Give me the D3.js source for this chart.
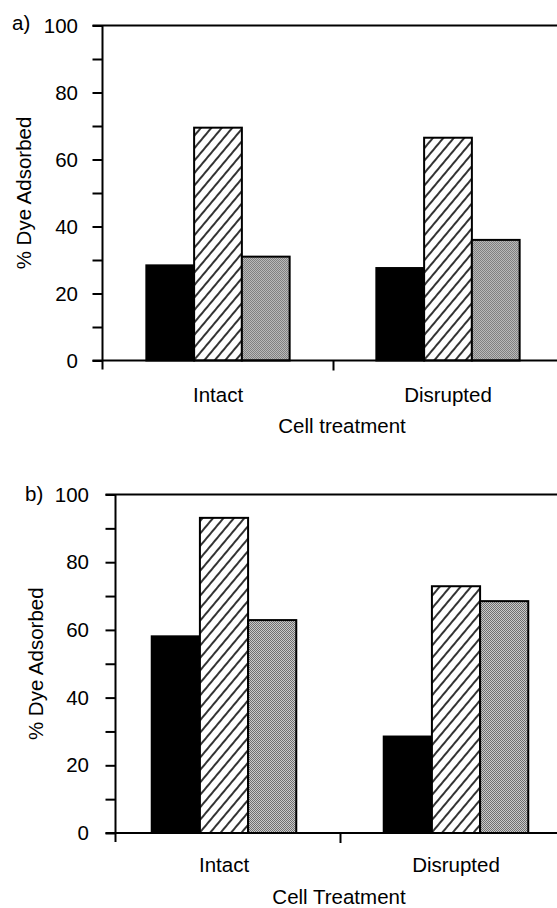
<!DOCTYPE html>
<html>
<head>
<meta charset="utf-8">
<script src="https://cdn.jsdelivr.net/npm/d3@7"></script>
<style>
  body { margin: 0; background: #fff; }
  svg { display: block; font-family: "Liberation Sans", Arial, sans-serif; }
  text { fill: #000; }
</style>
</head>
<body>
<script>
// data
const categories = ["Intact", "Disrupted"];
const seriesKeys = ["solid", "hatched", "stippled"];

// panel a
const solidA = [28.4, 27.6];
const hatchedA = [69.5, 66.5];
const stippledA = [31.0, 36.0];

// panel b
const solidB = [58.1, 28.5];
const hatchedB = [93.1, 72.9];
const stippledB = [62.9, 68.5];

const yTickValues = [0, 20, 40, 60, 80, 100];
const yMinorTicks = [10, 30, 50, 70, 90];
const yTitle = "% Dye Adsorbed";

const width = 557;
const height = 908;

const svg = d3.select('body').append('svg')
      .attr('width', width)
      .attr('height', height);

// fills
const defs = svg.append('defs');

const hatch = defs.append('pattern')
      .attr('id', 'hatch')
      .attr('patternUnits', 'userSpaceOnUse')
      .attr('width', 8)
      .attr('height', 8)
      .attr('patternTransform', 'rotate(40)');
hatch.append('rect').attr('width', 8).attr('height', 8).attr('fill', '#fff');
hatch.append('line')
  .attr('x1', 4).attr('y1', 0).attr('x2', 4).attr('y2', 8)
  .attr('stroke', '#000').attr('stroke-width', 1.6);

const dots = defs.append('pattern')
      .attr('id', 'dots')
      .attr('patternUnits', 'userSpaceOnUse')
      .attr('width', 2)
      .attr('height', 2);
dots.append('rect').attr('width', 2).attr('height', 2).attr('fill', '#fff');
dots.append('rect').attr('width', 1).attr('height', 1).attr('fill', '#3a3a3a');
dots.append('rect').attr('x', 1).attr('y', 1).attr('width', 1).attr('height', 1).attr('fill', '#3a3a3a');

const fills = { solid: '#000', hatched: 'url(#hatch)', stippled: 'url(#dots)' };

const panels = [
  { letter: 'a)', series: [solidA, hatchedA, stippledA], xTitle: 'Cell treatment',
    axisX: 102.5, top: 25.5, bottom: 360.5, band: [103, 563],
    labelPad: 14.5, catPad: 27, letterX: 12, letterY: 30,
    yTitleX: 31, xTitleX: 342, xTitleY: 433 },
  { letter: 'b)', series: [solidB, hatchedB, stippledB], xTitle: 'Cell Treatment',
    axisX: 115.5, top: 494.5, bottom: 833, band: [108, 572],
    labelPad: 16.5, catPad: 24, letterX: 25, letterY: 501,
    yTitleX: 43, xTitleX: 339, xTitleY: 904 }
];

panels.forEach(function (p) {
  const g = svg.append('g');

  const y = d3.scaleLinear().domain([0, 100]).range([p.bottom, p.top]);
  const x = d3.scaleBand().domain(categories).range(p.band)
        .paddingInner(0.377).paddingOuter(0.1885);
  const x1 = d3.scaleBand().domain(seriesKeys).range([0, x.bandwidth()]);

  // bars
  const rows = categories.map(function (c, i) {
    return { cat: c, vals: seriesKeys.map(function (k, j) { return { key: k, v: p.series[j][i] }; }) };
  });

  const groups = g.selectAll('g.grp').data(rows).enter().append('g')
        .attr('class', 'grp')
        .attr('transform', d => `translate(${x(d.cat)} 0)`);

  groups.selectAll('rect').data(d => d.vals).enter().append('rect')
    .attr('x', d => x1(d.key))
    .attr('y', d => y(d.v))
    .attr('width', x1.bandwidth())
    .attr('height', d => y(0) - y(d.v))
    .attr('fill', d => fills[d.key])
    .attr('stroke', '#000')
    .attr('stroke-width', 2);

  // y axis: major and minor ticks
  const yAxisG = g.append('g').attr('transform', `translate(${p.axisX} 0)`);
  yAxisG.call(d3.axisLeft(y).tickValues(yTickValues).tickSize(10)
              .tickSizeOuter(0).tickPadding(p.labelPad));
  yAxisG.call(g2 => g2.select('.domain').remove());
  yAxisG.selectAll('line').attr('stroke-width', 2);
  yAxisG.selectAll('text').attr('font-size', 20.5).attr('font-family', '"Liberation Sans", Arial, sans-serif');

  const yMinorG = g.append('g').attr('transform', `translate(${p.axisX} 0)`);
  yMinorG.call(d3.axisLeft(y).tickValues(yMinorTicks).tickSize(10)
               .tickSizeOuter(0).tickFormat(''));
  yMinorG.call(g2 => g2.select('.domain').remove());
  yMinorG.selectAll('line').attr('stroke-width', 2);

  // axis line, top line and baseline
  g.append('line')
    .attr('x1', p.axisX).attr('x2', p.axisX)
    .attr('y1', y(100)).attr('y2', y(0) + 9)
    .attr('stroke', '#000').attr('stroke-width', 2);
  g.append('line')
    .attr('x1', p.axisX - 10).attr('x2', width)
    .attr('y1', y(100)).attr('y2', y(100))
    .attr('stroke', '#000').attr('stroke-width', 2);
  g.append('line')
    .attr('x1', p.axisX - 10).attr('x2', width)
    .attr('y1', y(0)).attr('y2', y(0))
    .attr('stroke', '#000').attr('stroke-width', 2);

  // x axis: category labels, ticks between groups
  const xAxisG = g.append('g').attr('transform', `translate(0 ${y(0)})`);
  xAxisG.call(d3.axisBottom(x).tickSize(0).tickPadding(p.catPad));
  xAxisG.call(g2 => g2.select('.domain').remove());
  xAxisG.selectAll('text').attr('font-size', 20.5).attr('font-family', '"Liberation Sans", Arial, sans-serif');

  const edge = d3.scaleLinear().domain([0, categories.length]).range(p.band);
  const xTickG = g.append('g').attr('transform', `translate(0 ${y(0)})`);
  xTickG.call(d3.axisBottom(edge).tickValues([1]).tickSize(10).tickFormat(''));
  xTickG.call(g2 => g2.select('.domain').remove());
  xTickG.selectAll('line').attr('stroke-width', 2);

  // titles
  g.append('text')
    .attr('x', p.letterX).attr('y', p.letterY)
    .attr('font-size', 20.5)
    .text(p.letter);

  g.append('text')
    .attr('transform', `translate(${p.yTitleX} ${(y(0) + y(100)) / 2}) rotate(-90)`)
    .attr('text-anchor', 'middle')
    .attr('font-size', 20.5)
    .text(yTitle);

  g.append('text')
    .attr('x', p.xTitleX).attr('y', p.xTitleY)
    .attr('text-anchor', 'middle')
    .attr('font-size', 20.5)
    .text(p.xTitle);
});
</script>
</body>
</html>
